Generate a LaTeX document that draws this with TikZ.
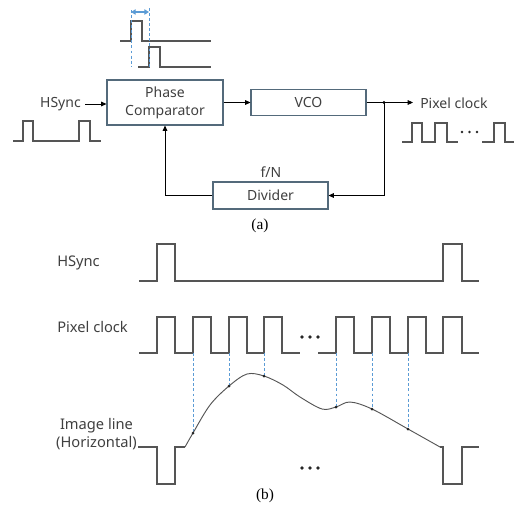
\documentclass[tikz,border=0pt]{standalone}
\usepackage{fontspec}
\setmainfont{Noto Sans}
\newfontfamily\serifcap{Liberation Serif}
\usetikzlibrary{arrows.meta}
\definecolor{boxc}{HTML}{546A7B}
\definecolor{txtc}{HTML}{404040}
\definecolor{wavec}{HTML}{555555}
\definecolor{dashc}{HTML}{5B9BD5}
\tikzset{
  box/.style={draw=boxc, line width=0.8pt, fill=white, text=txtc, align=center, inner sep=0pt, font=\fontsize{10.5}{13.5}\selectfont},
  lbl/.style={text=txtc, inner sep=0pt, font=\fontsize{10.5}{13}\selectfont, align=center},
  lblb/.style={text=txtc, inner sep=0pt, font=\fontsize{11}{13.5}\selectfont, align=center},
  captext/.style={text=black, inner sep=0pt, font=\serifcap\fontsize{11.5}{13}\selectfont},
  arr/.style={draw=black, line width=0.6pt, -{Triangle[length=4pt,width=3.5pt]}},
  wave/.style={draw=wavec, line width=0.8pt},
  guide/.style={draw=dashc, line width=0.6pt, dash pattern=on 2.2pt off 1.6pt},
}
\begin{document}
\begin{tikzpicture}[x=0.75pt,y=-0.75pt]
\useasboundingbox (0,0) rectangle (516,507);
% ---------- (a) ----------
\node[box, minimum width=87pt, minimum height=33.75pt] (comp) at (165,102.5) {Phase\\Comparator};
\node[box, minimum width=86.25pt, minimum height=19.5pt] (vco) at (308.5,102.5) {VCO};
\node[box, minimum width=86.25pt, minimum height=20.25pt] (div) at (270.5,195.5) {Divider};
\node[lbl, anchor=east] (hs) at (81,104) {HSync};
\node[lbl] (fn) at (271,172) {f/N};
\node[lbl, anchor=west] (pc) at (420,103) {Pixel clock};
\coordinate (j) at (384,102.5);
\coordinate (out) at (413,102.5);
\draw[arr] (hs.east) ++(3pt,0) coordinate (hsa) -- (hsa -| comp.west);
\draw[arr] (comp.east) -- (vco.west);
\draw[line width=0.6pt] (vco.east) -- (j);
\draw[arr] (j) -- (out);
\fill (j) circle (1.6);
\draw[arr] (j) |- (div.east);
\draw[arr] (div.west) -| (comp.south);
% timing sketch above comparator
\draw[wave] (120,41)--(131,41)--(131,21)--(142,21)--(142,41)--(211,41);
\draw[wave] (138,67)--(149,67)--(149,47)--(160,47)--(160,67)--(211,67);
\draw[guide] (131,10)--(131,67);
\draw[guide] (149,8)--(149,67);
\draw[draw=dashc, line width=0.8pt, {Triangle[length=3.5pt,width=4pt]}-{Triangle[length=3.5pt,width=4pt]}] (131,12)--(149,12);
% small HSync
\draw[wave] (13,141)--(23,141)--(23,121)--(33,121)--(33,141)--(79,141)--(79,121)--(90,121)--(90,141)--(101,141);
% small pixel clock
\draw[wave] (402,142)--(412,142)--(412,123)--(422,123)--(422,142)--(435,142)--(435,123)--(447,123)--(447,142)--(458,142);
\draw[wave] (482,142)--(494,142)--(494,123)--(505,123)--(505,142)--(514,142);
\foreach \x in {462,469.5,477} \fill[black!85] (\x,132) circle (1.4);
\node[captext] (capa) at (260,226) {(a)};
% ---------- (b) ----------
\node[lblb, anchor=west] (hs2) at (57,263) {HSync};
\node[lblb, anchor=west] (pc2) at (57,327) {Pixel clock};
\node[lblb, anchor=east] (il) at (137,434) {Image line\\(Horizontal)};
% HSync wave
\draw[wave] (139,281)--(157,281)--(157,244)--(175,244)--(175,281)--(443,281)--(443,244)--(462,244)--(462,281)--(479,281);
% pixel clock wave
\draw[wave] (139,353)--(157,353)--(157,317)--(175,317)--(175,353)--(193,353)--(193,317)--(211,317)--(211,353)--(229,353)--(229,317)--(247,317)--(247,353)--(264,353)--(264,317)--(282,317)--(282,353)--(300,353);
\draw[wave] (318,353)--(336,353)--(336,317)--(354,317)--(354,353)--(372,353)--(372,317)--(390,317)--(390,353)--(408,353)--(408,317)--(426,317)--(426,353)--(443,353)--(443,317)--(462,317)--(462,353)--(479,353);
\foreach \x in {302,310,318} \fill[black!85] (\x,337) circle (1.8);
% guides
\foreach \x/\y in {193/433,229/386,264/376,336/407,372/409,408/429}{
  \draw[guide] (\x,353)--(\x,\y);
}
% image line
\draw[wave] (138,447)--(157,447)--(157,484)--(175,484)--(175,447)--(185,447);
\draw[wave, line width=0.7pt] plot[smooth, tension=0.55] coordinates {(185,447) (193,433) (210,405) (229,386) (247,374) (264,376) (283,385) (300,397) (322,409) (336,407) (350,402) (372,409) (408,429) (440,447)};
\draw[wave] (440,447)--(443,447)--(443,484)--(462,484)--(462,447)--(479,447);
\foreach \x/\y in {193/433,229/386,264/376,336/407,372/409,408/429}{
  \fill[black!85] (\x,\y) circle (1.5);
}
\foreach \x in {302,310,318} \fill[black!85] (\x,468) circle (1.8);
\node[captext] (capb) at (265,496) {(b)};
\end{tikzpicture}
\end{document}
